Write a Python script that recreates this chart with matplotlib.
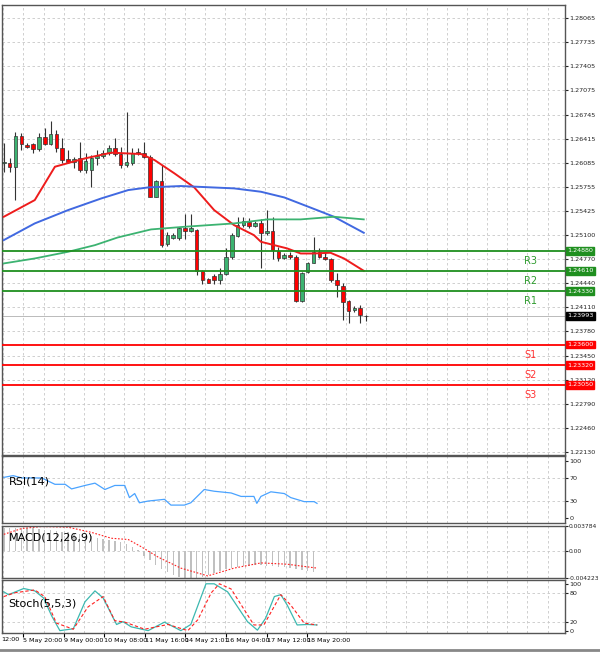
import numpy as np
import matplotlib.pyplot as plt

# ---- candle data (bar index 0..62) ----
opens = [1.26078, 1.26078, 1.26023, 1.26452, 1.26328, 1.26342, 1.26269, 1.26433, 1.26342, 1.26479,
         1.26283, 1.26132, 1.26100, 1.26146, 1.25986, 1.25986, 1.26146, 1.26178, 1.26224, 1.26283,
         1.26205, 1.26055, 1.26087, 1.26237, 1.26224, 1.26160, 1.25622, 1.25841, 1.24974, 1.25052,
         1.25052, 1.25188, 1.25156, 1.25166, 1.24609, 1.24491, 1.24536, 1.24482, 1.24564, 1.24792,
         1.25084, 1.25234, 1.25280, 1.25220, 1.25266, 1.25120, 1.25156, 1.24883, 1.24778, 1.24824,
         1.24792, 1.24199, 1.24596, 1.24719, 1.24869, 1.24801, 1.24764, 1.24482, 1.24400, 1.24199,
         1.24071, 1.24094, 1.23989]
closes = [1.26096, 1.26023, 1.26452, 1.26337, 1.26297, 1.26269, 1.26442, 1.26342, 1.26479, 1.26283,
          1.26123, 1.26100, 1.26132, 1.25986, 1.26114, 1.26146, 1.26178, 1.26224, 1.26283, 1.26205,
          1.26055, 1.26100, 1.26224, 1.26214, 1.26160, 1.25622, 1.25841, 1.24960, 1.25097, 1.25097,
          1.25188, 1.25156, 1.25188, 1.24609, 1.24482, 1.24445, 1.24482, 1.24564, 1.24792, 1.25097,
          1.25234, 1.25293, 1.25220, 1.25266, 1.25120, 1.25156, 1.24892, 1.24778, 1.24824, 1.24792,
          1.24199, 1.24582, 1.24719, 1.24869, 1.24792, 1.24764, 1.24482, 1.24413, 1.24185, 1.24062,
          1.24094, 1.24003, 1.23993]
highs = [1.26351, 1.26146, 1.26511, 1.26497, 1.26351, 1.26351, 1.26488, 1.26556, 1.26661, 1.26534,
         1.26420, 1.26260, 1.26169, 1.26374, 1.26214, 1.26192, 1.26260, 1.26260, 1.26328, 1.26420,
         1.26306, 1.26775, 1.26283, 1.26283, 1.26374, 1.26192, 1.25850, 1.26055, 1.25143, 1.25120,
         1.25211, 1.25384, 1.25384, 1.25175, 1.24618, 1.24504, 1.24564, 1.24641, 1.24915, 1.25120,
         1.25339, 1.25339, 1.25325, 1.25293, 1.25312, 1.25439, 1.25348, 1.24938, 1.24856, 1.24869,
         1.24824, 1.24596, 1.24728, 1.25074, 1.24915, 1.24869, 1.24778, 1.24573, 1.24445, 1.24208,
         1.24126, 1.24140, 1.24003]
lows = [1.25964, 1.25964, 1.25576, 1.26260, 1.26283, 1.26224, 1.26251, 1.26328, 1.26328, 1.26237,
        1.26087, 1.26078, 1.26009, 1.25964, 1.25941, 1.25749, 1.26055, 1.26146, 1.26192, 1.26178,
        1.26009, 1.26032, 1.26055, 1.26192, 1.26146, 1.25622, 1.25612, 1.24938, 1.24947, 1.25038,
        1.25029, 1.25038, 1.25143, 1.24550, 1.24427, 1.24436, 1.24427, 1.24427, 1.24550, 1.24764,
        1.25074, 1.25211, 1.25188, 1.25211, 1.24641, 1.25097, 1.24764, 1.24746, 1.24764, 1.24764,
        1.24185, 1.24185, 1.24573, 1.24710, 1.24778, 1.24755, 1.24459, 1.24254, 1.23934, 1.23889,
        1.24048, 1.23898, 1.23925]

# moving averages (bar index, price)
ma_red_x = [0, 5.3, 8.75, 13.9, 18.4, 23.5, 25.8, 29.2, 32.6, 36, 39.4, 42.8, 44, 48.5, 50.8, 53, 55.9, 58.2, 61.6]
ma_red_y = [1.25348, 1.25576, 1.26032, 1.26146, 1.26224, 1.26205, 1.26123, 1.25941, 1.25749, 1.25439,
            1.25234, 1.25097, 1.25006, 1.24915, 1.24846, 1.24846, 1.24856, 1.24778, 1.24609]
ma_blue_x = [0, 5.3, 11, 16.7, 21.3, 24.7, 30.3, 39.4, 44, 48, 53.6, 56.5, 61.6]
ma_blue_y = [1.25029, 1.25257, 1.25439, 1.25599, 1.25713, 1.25749, 1.25768, 1.25736, 1.25690, 1.25612,
             1.25439, 1.25348, 1.25129]
ma_green_x = [0, 5.3, 11, 15.6, 19.5, 25.2, 30.9, 39.4, 45.1, 50.8, 56.5, 61.6]
ma_green_y = [1.24710, 1.24778, 1.24869, 1.24960, 1.25065, 1.25175, 1.25211, 1.25257, 1.25312, 1.25312,
              1.25348, 1.25312]

resist = [1.24880, 1.24610, 1.24330]
resist_names = ['R3', 'R2', 'R1']
support = [1.23600, 1.23320, 1.23050]
support_names = ['S1', 'S2', 'S3']
last_price = 1.23993

price_ticks = [1.28065, 1.27735, 1.27405, 1.27075, 1.26745, 1.26415, 1.26085, 1.25755, 1.25425,
               1.25100, 1.24770, 1.24440, 1.24110, 1.23780, 1.23450, 1.23120, 1.22790, 1.22460, 1.22130]

# RSI
rsi_x = [0, 1.6, 3.1, 6.5, 8.75, 10.5, 11.6, 13.9, 15.6, 17.3, 19, 20.7, 21.5, 22.4, 23.2, 24.7, 27.5,
         28.6, 30.9, 32, 34.3, 36, 38.9, 40.6, 42.8, 43.3, 44, 45.7, 48, 49.1, 51.4, 53.1, 53.6]
rsi_y = [71, 74, 70, 70, 59, 59, 51, 57, 61, 50, 57, 57, 36, 43, 27, 30, 33, 23, 23, 27, 50, 47, 44, 38,
         38, 26, 38, 46, 43, 36, 29, 29, 26]

# MACD
macd_hist = [0.0034, 0.0034, 0.0035, 0.0035, 0.0034, 0.0034, 0.0033, 0.0032, 0.0031, 0.0030,
             0.0029, 0.0028, 0.0026, 0.0025, 0.0023, 0.0022, 0.0020, 0.0018, 0.0016, 0.0015,
             0.0013, 0.0010, 0.0006, 0.0001, -0.0008, -0.0015, -0.0022, -0.0028, -0.0033, -0.0037,
             -0.0041, -0.0044, -0.0044, -0.0043, -0.0041, -0.0038, -0.0035, -0.0032, -0.0029, -0.0027,
             -0.0025, -0.0024, -0.0023, -0.0022, -0.0022, -0.0023, -0.0024, -0.0025, -0.0026, -0.0027,
             -0.0028, -0.0030, -0.0031, -0.0033]
macd_sig_x = [0, 3.1, 6.5, 11, 15, 18.4, 21.3, 23.5, 26.4, 30.3, 34.9, 39.4, 44, 48.5, 53.6]
macd_sig_y = [0.0025, 0.0034, 0.0037, 0.0036, 0.0028, 0.0019, 0.0017, 0.0006, -0.0010, -0.0027,
              -0.0039, -0.0027, -0.0019, -0.0021, -0.0027]

# Stochastic
stk_x = [0, 0.8, 3.4, 5.3, 6.8, 8.2, 9.6, 11.9, 13.9, 15.6, 17, 19.3, 20.4, 21.8, 24.7, 27.5, 30.3,
         32, 34.6, 36, 38.3, 41.7, 43.4, 44.8, 46.3, 47.4, 48.5, 50.2, 52, 53.6]
stk_y = [83, 77, 90, 85, 70, 32, 1, 5, 62, 85, 70, 14, 20, 9, 1, 19, 1, 14, 100, 100, 83, 20, 2, 27,
         73, 77, 55, 13, 14, 13]
std_x = [0, 1.9, 5.3, 7, 9, 11.9, 14.4, 17, 19, 20.7, 24.1, 28.1, 31.5, 33.2, 35.5, 36.9, 38.9, 42.8,
         44.5, 47.4, 49.1, 51.4, 53.6]
std_y = [73, 81, 87, 73, 17, 4, 51, 73, 22, 19, 4, 14, 1, 24, 81, 100, 89, 13, 13, 77, 55, 17, 13]

time_ticks = [3.36, 10.3, 17.2, 24.2, 31.0, 38.0, 45.0, 51.8]
time_labels = ['5 May 20:00', '9 May 00:00', '10 May 08:00', '11 May 16:00', '14 May 21:01',
               '16 May 04:00', '17 May 12:00', '18 May 20:00']

GREEN = '#3cb371'
RED = '#ff0000'
LVL_GREEN = '#1f8f1f'
GRID = dict(color='#c8c8c8', linestyle=(0, (3, 3)), linewidth=0.6)
XL = (-0.34, 96)
FS = 4.6

W, H = 600, 652
fig = plt.figure(figsize=(W / 100, H / 100), dpi=100)


def panel(top, bottom):
    return fig.add_axes([0.003, 1 - bottom / H, 563 / W, (bottom - top) / H])


ax = panel(5, 455)
ax_rsi = panel(456, 523)
ax_macd = panel(526, 578)
ax_st = panel(580, 633)

for a in (ax, ax_rsi, ax_macd, ax_st):
    a.set_xlim(*XL)
    a.yaxis.tick_right()
    a.tick_params(axis='y', labelsize=FS, length=2, pad=1.5, colors='#222222')
    a.tick_params(axis='x', length=0, labelbottom=False)
    for s in a.spines.values():
        s.set_color('#555555')
        s.set_linewidth(1.0)
    vg = np.arange(time_ticks[0] - 3.45, XL[1], 3.45)
    for v in vg:
        a.axvline(v, zorder=0, **GRID)

# main candles
idx = np.arange(len(opens))
for i in idx:
    o, c, h, l = opens[i], closes[i], highs[i], lows[i]
    col = GREEN if c >= o else RED
    ax.vlines(i, l, h, color='#333333', linewidth=0.8, zorder=2)
    body = max(abs(c - o), 0.00004)
    ax.bar(i, body, bottom=min(o, c), width=0.62, color=col, edgecolor='#333333', linewidth=0.5, zorder=3)

ax.plot(ma_red_x, ma_red_y, color='#ee1c1c', linewidth=1.4, zorder=4)
ax.plot(ma_blue_x, ma_blue_y, color='#4169e1', linewidth=1.4, zorder=4)
ax.plot(ma_green_x, ma_green_y, color='#3cb371', linewidth=1.3, zorder=4)

ax.set_ylim(1.22091, 1.28243)
ax.set_yticks(price_ticks)
ax.set_yticklabels([f'{p:.5f}' for p in price_ticks])
for p in price_ticks:
    ax.axhline(p, zorder=0, **GRID)

lab_x = 90.2
box = dict(boxstyle='square,pad=0.2')
for lvl, name in zip(resist, resist_names):
    ax.axhline(lvl, color=LVL_GREEN, linewidth=1.3, zorder=5)
    ax.text(lab_x, lvl - 0.0014, name, color='#2e9b2e', fontsize=7, ha='center', va='center')
    ax.text(1.004, lvl, f'{lvl:.5f}', transform=ax.get_yaxis_transform(), fontsize=FS, color='white',
            va='center', ha='left', bbox=dict(box, fc=LVL_GREEN, ec=LVL_GREEN), zorder=6)
for lvl, name in zip(support, support_names):
    ax.axhline(lvl, color=RED, linewidth=1.3, zorder=5)
    ax.text(lab_x, lvl - 0.0014, name, color='#ff3333', fontsize=7, ha='center', va='center')
    ax.text(1.004, lvl, f'{lvl:.5f}', transform=ax.get_yaxis_transform(), fontsize=FS, color='white',
            va='center', ha='left', bbox=dict(box, fc=RED, ec=RED), zorder=6)
ax.axhline(last_price, color='#b0b0b0', linewidth=0.6, zorder=1)
ax.text(1.004, last_price, f'{last_price:.5f}', transform=ax.get_yaxis_transform(), fontsize=FS,
        color='white', va='center', ha='left', bbox=dict(box, fc='black', ec='black'))

# RSI
ax_rsi.plot(rsi_x, rsi_y, color='#4aa3ff', linewidth=0.9)
ax_rsi.set_ylim(-8, 108)
ax_rsi.set_yticks([0, 30, 70, 100])
for v in (30, 70):
    ax_rsi.axhline(v, zorder=0, **GRID)
ax_rsi.text(0.012, 0.62, 'RSI(14)', transform=ax_rsi.transAxes, fontsize=8, va='center')

# MACD
ax_macd.bar(np.arange(len(macd_hist)), macd_hist, width=0.25, color='#c0c0c0')
ax_macd.plot(macd_sig_x, macd_sig_y, color='#ff2020', linewidth=0.8, linestyle=(0, (1.5, 1.5)))
ax_macd.set_ylim(-0.004223, 0.003784)
ax_macd.set_yticks([-0.004223, 0.0, 0.003784])
ax_macd.set_yticklabels(['-0.004223', '0.00', '0.003784'])
ax_macd.tick_params(axis='y', labelsize=4.3, pad=1)
ax_macd.axhline(0, zorder=0, **GRID)
ax_macd.text(0.012, 0.78, 'MACD(12,26,9)', transform=ax_macd.transAxes, fontsize=8, va='center')

# Stochastic
ax_st.plot(stk_x, stk_y, color='#3cb8b0', linewidth=0.9)
ax_st.plot(std_x, std_y, color='#ff2020', linewidth=0.8, linestyle=(0, (3, 2)))
ax_st.set_ylim(-4, 108)
ax_st.set_yticks([0, 20, 80, 100])
for v in (20, 80):
    ax_st.axhline(v, zorder=0, **GRID)
ax_st.text(0.012, 0.55, 'Stoch(5,5,3)', transform=ax_st.transAxes, fontsize=8, va='center')

ax_st.set_xticks(time_ticks)
ax_st.tick_params(axis='x', length=3, labelbottom=False)
for t, lab in zip(time_ticks, time_labels):
    ax_st.text(t, -0.1, lab, transform=ax_st.get_xaxis_transform(), fontsize=FS, ha='left', va='top')
fig.text(1 / W, 1 - 637 / H, '12:00', fontsize=FS, ha='left', va='top')

fig.add_artist(plt.Line2D([0, 1], [2 / H, 2 / H], color='#888888', linewidth=2))

fig.savefig('out.png', dpi=100)
